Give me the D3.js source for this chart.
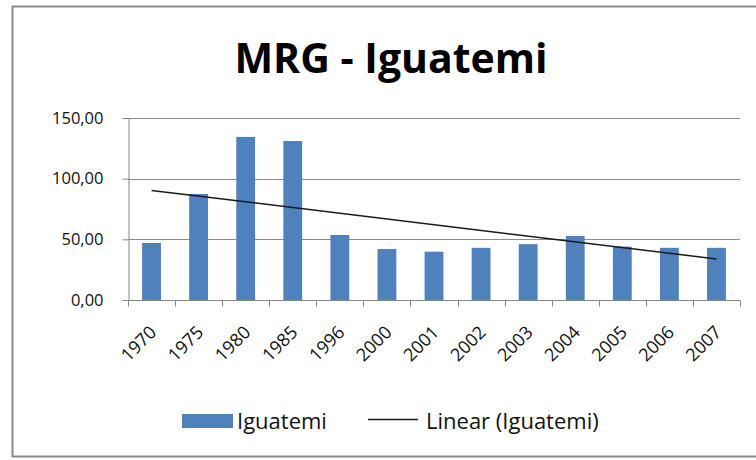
<!DOCTYPE html>
<html>
<head>
<meta charset="utf-8">
<script src="https://cdn.jsdelivr.net/npm/d3@7"></script>
<style>
  body { margin: 0; background: #fff; }
  svg { display: block; font-family: "Open Sans", sans-serif; }
</style>
</head>
<body>
<div id="chart"></div>
<script>
const years = ["1970", "1975", "1980", "1985", "1996", "2000", "2001", "2002", "2003", "2004", "2005", "2006", "2007"];
const iguatemi = [47, 87.4, 134.4, 131, 53.6, 42, 39.8, 43, 46, 52.8, 44, 43, 43];
const yTicks = [0, 50, 100, 150];

const width = 756, height = 460;
const plot = { left: 128, right: 740, top: 118, bottom: 300 };

let svg = d3.select("#chart")
            .append("svg")
            .attr("width", width)
            .attr("height", height);

// outer chart frame (right edge runs off the picture)
svg.append("rect")
   .attr("x", 12.5).attr("y", 6.5)
   .attr("width", 760).attr("height", 450)
   .attr("fill", "#fff")
   .attr("stroke", "#8a8a8a")
   .attr("stroke-width", 2);

svg.append("text")
   .attr("x", 391).attr("y", 73)
   .attr("text-anchor", "middle")
   .style("font-size", "41px")
   .style("font-weight", "bold")
   .style("fill", "#000")
   .text("MRG - Iguatemi");

let x = d3.scaleBand()
          .domain(years)
          .range([plot.left, plot.right])
          .paddingInner(0.6)
          .paddingOuter(0.3);
let y = d3.scaleLinear()
          .domain([0, 150])
          .range([plot.bottom, plot.top]);

// horizontal gridlines
svg.append("g")
   .selectAll("line")
   .data(yTicks.filter(d => d > 0))
   .enter()
   .append("line")
   .attr("x1", plot.left).attr("x2", plot.right)
   .attr("y1", d => Math.round(y(d)) + 0.5)
   .attr("y2", d => Math.round(y(d)) + 0.5)
   .attr("stroke", "#8c8c8c");

// y axis
let yAxis = svg.append("g")
   .attr("transform", `translate(${plot.left + 0.5},0)`)
   .call(d3.axisLeft(y).tickValues(yTicks).tickSize(6).tickPadding(19)
           .tickFormat(d => d3.format(".2f")(d).replace(".", ",")));
yAxis.select(".domain").attr("stroke", "#868686");
yAxis.selectAll(".tick line").attr("stroke", "#868686");
yAxis.selectAll("text")
     .style("font-size", "16.5px")
     .style("font-family", "'Open Sans', sans-serif")
     .attr("fill", "#111");

// bars
svg.append("g")
   .selectAll("rect")
   .data(iguatemi)
   .enter()
   .append("rect")
   .attr("x", (d, i) => x(years[i]))
   .attr("width", x.bandwidth())
   .attr("y", d => y(d))
   .attr("height", d => y(0) - y(d))
   .attr("fill", "#4F81BD");

// x axis with ticks at category boundaries
let step = x.step();
let xAxis = svg.append("g").attr("transform", `translate(0,${plot.bottom + 0.5})`);
xAxis.append("line")
     .attr("x1", plot.left).attr("x2", plot.right)
     .attr("stroke", "#868686");
xAxis.selectAll(".tk")
     .data(d3.range(years.length + 1))
     .enter()
     .append("line")
     .attr("x1", i => Math.round(plot.left + i * step) + 0.5)
     .attr("x2", i => Math.round(plot.left + i * step) + 0.5)
     .attr("y1", 0).attr("y2", 6)
     .attr("stroke", "#868686");
xAxis.selectAll("text")
     .data(years)
     .enter()
     .append("text")
     .attr("text-anchor", "end")
     .attr("transform", d => `translate(${x(d) + x.bandwidth() / 2 + 6},${33}) rotate(-45)`)
     .style("font-size", "18px")
     .attr("fill", "#111")
     .text(d => d);

// linear trendline (least squares over category index)
let n = iguatemi.length;
let xs = d3.range(1, n + 1);
let mx = d3.mean(xs), my = d3.mean(iguatemi);
let slope = d3.sum(xs, (v, i) => (v - mx) * (iguatemi[i] - my)) / d3.sum(xs, v => (v - mx) * (v - mx));
let intercept = my - slope * mx;
let trend = [xs[0], xs[n - 1]].map(v => ({ cat: years[v - 1], val: intercept + slope * v }));
svg.append("path")
   .datum(trend)
   .attr("d", d3.line().x(d => x(d.cat) + x.bandwidth() / 2).y(d => y(d.val)))
   .attr("fill", "none")
   .attr("stroke", "#1a1a1a")
   .attr("stroke-width", 1.5);

// legend
let legend = svg.append("g");
legend.append("rect")
      .attr("x", 182).attr("y", 414)
      .attr("width", 51).attr("height", 14)
      .attr("fill", "#4F81BD");
legend.append("text")
      .attr("x", 237).attr("y", 429)
      .style("font-size", "22px")
      .attr("fill", "#111")
      .text("Iguatemi");
legend.append("line")
      .attr("x1", 368).attr("x2", 418)
      .attr("y1", 419.5).attr("y2", 419.5)
      .attr("stroke", "#1a1a1a")
      .attr("stroke-width", 1.5);
legend.append("text")
      .attr("x", 426).attr("y", 429)
      .style("font-size", "22px")
      .attr("fill", "#111")
      .text("Linear (Iguatemi)");
</script>
</body>
</html>
